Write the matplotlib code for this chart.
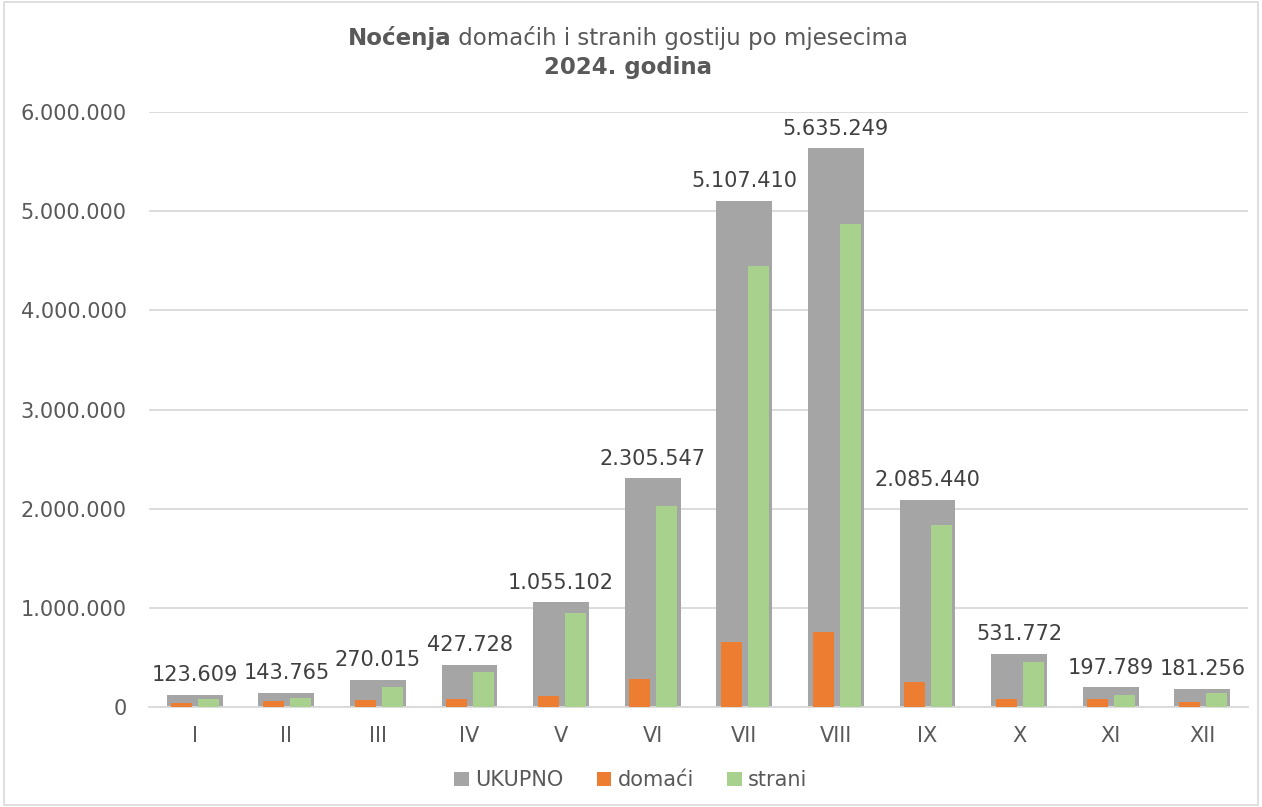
import matplotlib
matplotlib.use("Agg")
import matplotlib.pyplot as plt
import numpy as np
from matplotlib.patches import Rectangle

months = ["I", "II", "III", "IV", "V", "VI", "VII", "VIII", "IX", "X", "XI", "XII"]
ukupno = [123609, 143765, 270015, 427728, 1055102, 2305547, 5107410, 5635249,
          2085440, 531772, 197789, 181256]
domaci = [40000, 55000, 65000, 78000, 112000, 280000, 660000, 760000,
          255000, 78000, 78000, 45000]
strani = [83609, 88765, 205015, 349728, 943102, 2025547, 4447410, 4875249,
          1830440, 453772, 119789, 136256]
yticks = [0, 1000000, 2000000, 3000000, 4000000, 5000000, 6000000]

def fmt(v):
    return f"{v:,}".replace(",", ".")

TXT = "#595959"
plt.rcParams['font.family'] = ['DejaVu Sans']
FS = 15

fig = plt.figure(figsize=(12.62, 8.07), dpi=100)
ax = fig.add_axes([0.118, 0.124, 0.871, 0.737])

x = np.arange(len(months))
ax.bar(x, ukupno, width=0.61, color="#A5A5A5", label="UKUPNO", zorder=2)
ax.bar(x - 0.14, domaci, width=0.23, color="#ED7D31", label="domaći", zorder=3)
ax.bar(x + 0.155, strani, width=0.23, color="#A9D18E", label="strani", zorder=3)

for xi, v in zip(x, ukupno):
    ax.annotate(fmt(v), (xi, v), xytext=(0, 7), textcoords="offset points",
                ha="center", va="bottom", fontsize=FS, color="#404040")

ax.set_xlim(-0.5, len(months) - 0.5)
ax.set_ylim(0, 6000000)
ax.set_yticks(yticks)
ax.set_yticklabels([fmt(v) for v in yticks], fontsize=FS, color=TXT)
ax.set_xticks(x)
ax.set_xticklabels(months, fontsize=FS, color=TXT)
ax.tick_params(axis="x", length=0, pad=14)
ax.tick_params(axis="y", length=0, pad=16)
ax.grid(axis="y", color="#D9D9D9", linewidth=1.3, zorder=0)
for s in ["top", "right", "left"]:
    ax.spines[s].set_visible(False)
ax.spines["bottom"].set_color("#D9D9D9")
ax.spines["bottom"].set_linewidth(1.3)

leg = fig.legend(loc="center", bbox_to_anchor=(0.5, 0.033), ncol=3, frameon=False,
                 fontsize=FS, handlelength=0.7, handleheight=0.7,
                 handletextpad=0.3, columnspacing=1.6)
for t in leg.get_texts():
    t.set_color(TXT)

# Title with mixed weights
fig.canvas.draw()
r = fig.canvas.get_renderer()
TFS = 16.5
t1 = fig.text(0, 0.953, "Noćenja", fontsize=TFS, fontweight="bold", color=TXT, va="center")
t2 = fig.text(0, 0.953, " domaćih i stranih gostiju po mjesecima", fontsize=TFS, color=TXT, va="center")
w1 = t1.get_window_extent(r).width
w2 = t2.get_window_extent(r).width
W = fig.bbox.width
start = (628 - (w1 + w2) / 2) / W
t1.set_x(start)
t2.set_x(start + w1 / W)
fig.text(628 / W, 0.916, "2024. godina", fontsize=TFS, fontweight="bold", color=TXT,
         ha="center", va="center")

fig.patches.append(Rectangle((0.003, 0.003), 0.994, 0.994, transform=fig.transFigure,
                             fill=False, edgecolor="#D9D9D9", linewidth=1.2))

fig.savefig("out.png", dpi=100, facecolor="white")
